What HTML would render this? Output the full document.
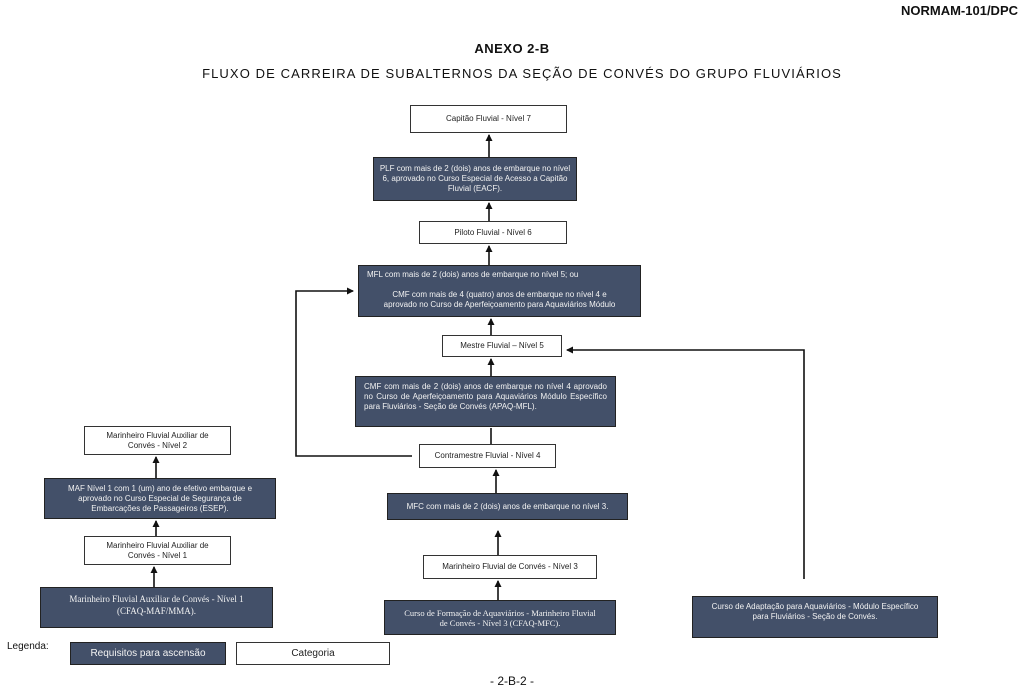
<!DOCTYPE html>
<html><head><meta charset="utf-8"><style>
body{margin:0;width:1024px;height:690px;background:#fff;position:relative;overflow:hidden;font-family:"Liberation Sans",sans-serif;}
.b{position:absolute;box-sizing:border-box;display:flex;align-items:center;justify-content:center;text-align:center;font-size:8px;line-height:10px;color:#222;}
.w{background:#fff;border:1px solid #333;}
.d{background:#435069;border:1px solid #222;color:#f2f2f2;padding:2px 6px;}
.t{position:absolute;white-space:nowrap;color:#111;}
svg{position:absolute;left:0;top:0;}
</style></head><body>
<div class="t" style="right:6px;top:3px;font-weight:bold;font-size:13px;">NORMAM-101/DPC</div>
<div class="t" style="left:0;width:1024px;text-align:center;top:41px;font-weight:bold;font-size:13px;letter-spacing:0.5px;">ANEXO 2-B</div>
<div class="t" style="left:10px;width:1024px;text-align:center;top:66px;font-size:13px;letter-spacing:1.1px;">FLUXO DE CARREIRA DE SUBALTERNOS DA SEÇÃO DE CONVÉS DO GRUPO FLUVIÁRIOS</div>

<svg width="1024" height="690">
<defs><marker id="a" markerWidth="8" markerHeight="8" refX="6" refY="4" orient="auto" markerUnits="userSpaceOnUse"><path d="M0,0.5 L7,4 L0,7.5 z" fill="#111"/></marker></defs>
<g stroke="#111" stroke-width="1.6" fill="none">
<line x1="489" y1="157" x2="489" y2="135" marker-end="url(#a)"/>
<line x1="489" y1="221" x2="489" y2="203" marker-end="url(#a)"/>
<line x1="489" y1="265" x2="489" y2="246" marker-end="url(#a)"/>
<line x1="491" y1="335" x2="491" y2="319" marker-end="url(#a)"/>
<line x1="491" y1="376" x2="491" y2="359" marker-end="url(#a)"/>
<line x1="491" y1="444" x2="491" y2="428"/>
<line x1="496" y1="493" x2="496" y2="470" marker-end="url(#a)"/>
<line x1="498" y1="555" x2="498" y2="531" marker-end="url(#a)"/>
<line x1="498" y1="600" x2="498" y2="581" marker-end="url(#a)"/>
<polyline points="412,456 296,456 296,291 353,291" marker-end="url(#a)"/>
<polyline points="804,579 804,350 567,350" marker-end="url(#a)"/>
<line x1="156" y1="478" x2="156" y2="457" marker-end="url(#a)"/>
<line x1="156" y1="536" x2="156" y2="521" marker-end="url(#a)"/>
<line x1="154" y1="587" x2="154" y2="567" marker-end="url(#a)"/>
</g></svg>

<div class="b w" style="left:410px;top:105px;width:157px;height:28px;">Capitão Fluvial - Nível 7</div>
<div class="b d" style="left:373px;top:157px;width:204px;height:44px;padding:2px 4px;">PLF com mais de 2 (dois) anos de embarque no nível 6, aprovado no Curso Especial de Acesso a Capitão Fluvial (EACF).</div>
<div class="b w" style="left:419px;top:221px;width:148px;height:23px;">Piloto Fluvial - Nível 6</div>
<div class="b d" style="left:358px;top:265px;width:283px;height:52px;display:block;text-align:left;padding:4px 8px;">MFL com mais de 2 (dois) anos de embarque no nível 5; ou<br><br><div style="text-align:center;padding:0 14px;">CMF com mais de 4 (quatro) anos de embarque no nível 4 e aprovado no Curso de Aperfeiçoamento para Aquaviários Módulo</div></div>
<div class="b w" style="left:442px;top:335px;width:120px;height:22px;">Mestre Fluvial – Nível 5</div>
<div class="b d" style="left:355px;top:376px;width:261px;height:51px;text-align:justify;justify-content:flex-start;align-items:flex-start;padding:5px 8px;">CMF com mais de 2 (dois) anos de embarque no nível 4 aprovado no Curso de Aperfeiçoamento para Aquaviários Módulo Específico para Fluviários - Seção de Convés (APAQ-MFL).</div>
<div class="b w" style="left:419px;top:444px;width:137px;height:24px;">Contramestre Fluvial - Nível 4</div>
<div class="b d" style="left:387px;top:493px;width:241px;height:27px;">MFC com mais de 2 (dois) anos de embarque no nível 3.</div>
<div class="b w" style="left:423px;top:555px;width:174px;height:24px;">Marinheiro Fluvial de Convés - Nível 3</div>
<div class="b d" style="left:384px;top:600px;width:232px;height:35px;font-family:'Liberation Serif',serif;font-size:8.5px;padding:2px 16px;">Curso de Formação de Aquaviários - Marinheiro Fluvial de Convés - Nível 3 (CFAQ-MFC).</div>
<div class="b d" style="left:692px;top:596px;width:246px;height:42px;align-items:flex-start;padding:5px 10px 0;">Curso de Adaptação para Aquaviários - Módulo Específico para Fluviários - Seção de Convés.</div>

<div class="b w" style="left:84px;top:426px;width:147px;height:29px;padding:0 16px;">Marinheiro Fluvial Auxiliar de Convés - Nível 2</div>
<div class="b d" style="left:44px;top:478px;width:232px;height:41px;padding:2px 16px;">MAF Nível 1 com 1 (um) ano de efetivo embarque e aprovado no Curso Especial de Segurança de Embarcações de Passageiros (ESEP).</div>
<div class="b w" style="left:84px;top:536px;width:147px;height:29px;padding:0 16px;">Marinheiro Fluvial Auxiliar de Convés - Nível 1</div>
<div class="b d" style="left:40px;top:587px;width:233px;height:41px;font-family:'Liberation Serif',serif;font-size:9px;line-height:12px;align-items:flex-start;padding:5px 16px 0;">Marinheiro Fluvial Auxiliar de Convés - Nível 1 (CFAQ-MAF/MMA).</div>

<div class="t" style="left:7px;top:641px;font-size:10px;">Legenda:</div>
<div class="b d" style="left:70px;top:642px;width:156px;height:23px;font-size:10px;">Requisitos para ascensão</div>
<div class="b w" style="left:236px;top:642px;width:154px;height:23px;font-size:10px;">Categoria</div>
<div class="t" style="left:0;width:1024px;text-align:center;top:674px;font-size:12px;">- 2-B-2 -</div>
</body></html>
